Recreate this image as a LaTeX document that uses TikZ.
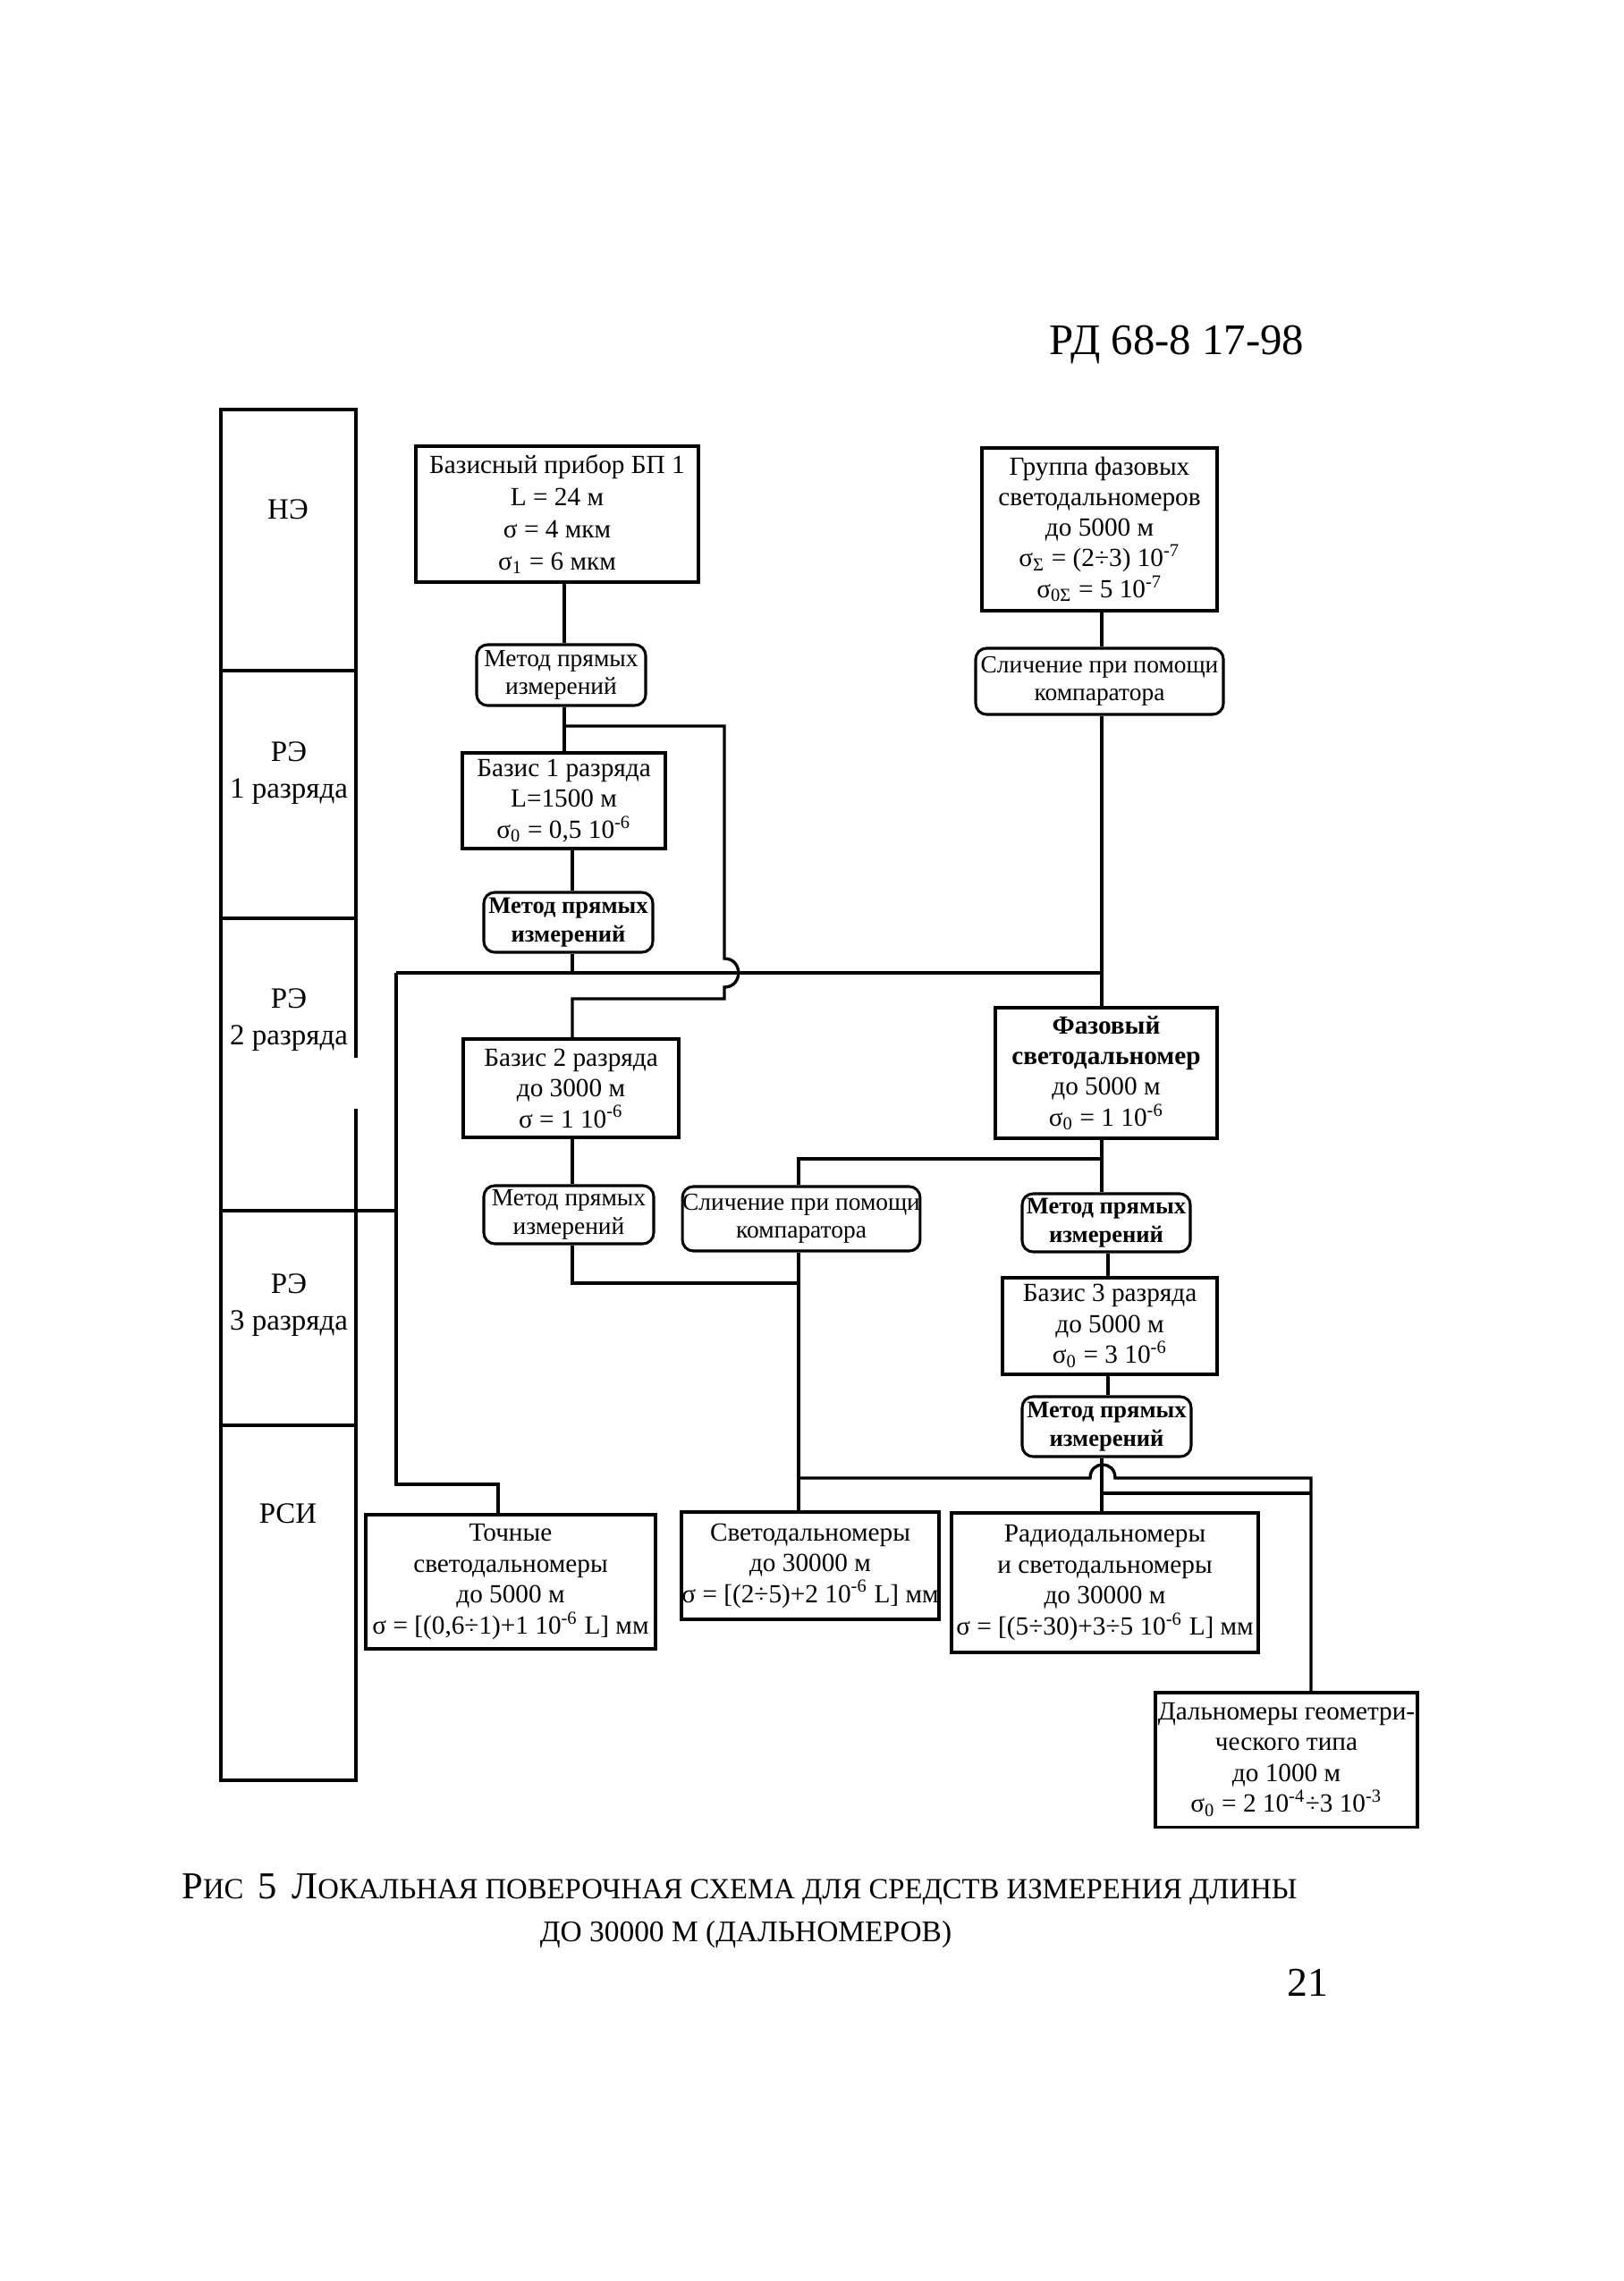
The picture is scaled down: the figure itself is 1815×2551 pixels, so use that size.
\documentclass[tikz,border=0pt]{standalone}
\usepackage{fontspec}
\setmainfont{Liberation Serif}
\newcommand\mybox[7]{\node[#1, minimum width={(#5-#3)*0.32798pt}, minimum height={(#6-#4)*0.32798pt}] (#2) at ({(#3+#5)/2},{(#4+#6)/2}) {#7};}
\newcommand\sgm{σ}
\tikzset{
  ln/.style={line width=1.1pt},
  bx/.style={draw, line width=1pt, rectangle, inner sep=0pt, align=center, font=\fontsize{9.6}{11.3}\selectfont},
  rbx/.style={bx, rounded corners=4pt, font=\fontsize{9}{10.3}\selectfont},
  rbxb/.style={rbx, font=\fontsize{8.7}{10.3}\selectfont\bfseries},
  lbl/.style={inner sep=0pt, align=center, font=\fontsize{10.8}{13.5}\selectfont},
}
\begin{document}
\begin{tikzpicture}[x=0.32798pt, y=-0.32798pt]
\fill[white] (0,0) rectangle (1815,2551);
\useasboundingbox (0,0) rectangle (1815,2551);

% header
\node[anchor=base, inner sep=0pt, font=\fontsize{16}{19}\selectfont] (hdr) at (1316,396) {РД 68-8 17-98};

% level column
\draw[line width=1.1pt] (398,1183) -- (398,458) -- (247,458) -- (247,1991) -- (398,1991) -- (398,1240);
\draw[line width=1.1pt] (247,750) -- (398,750);
\draw[line width=1.1pt] (247,1027) -- (398,1027);
\coordinate (dv) at (443,1354);
\draw[line width=1.1pt] (247,1354) -- (dv);
\draw[line width=1.1pt] (247,1594) -- (398,1594);
\node[lbl] (l1) at (322,570) {НЭ};
\node[lbl] (l2) at (323,865) {РЭ\\1 разряда};
\node[lbl] (l3) at (323,1141) {РЭ\\2 разряда};
\node[lbl] (l4) at (323,1460) {РЭ\\3 разряда};
\node[lbl] (l5) at (322,1693) {РСИ};

% boxes
\mybox{bx, font=\fontsize{9.6}{11.8}\selectfont}{bp1}{465}{499}{781}{651}{Базисный прибор БП 1\\L = 24 м\\\sgm{} = 4 мкм\\\sgm\textsubscript{1} = 6 мкм}
\mybox{rbx}{m1}{533}{721}{722}{789}{Метод прямых\\измерений}
\mybox{bx}{b1}{517}{842}{744}{949}{Базис 1 разряда\\L=1500 м\\\sgm\textsubscript{0} = 0,5 10\textsuperscript{-6}}
\mybox{rbxb}{m2}{541}{998}{730}{1065}{Метод прямых\\измерений}
\mybox{bx, font=\fontsize{9.6}{11.2}\selectfont}{gr}{1098}{501}{1361}{683}{Группа фазовых\\светодальномеров\\до 5000 м\\\sgm\textsubscript{Σ} = (2÷3) 10\textsuperscript{-7}\\\sgm\textsubscript{0Σ} = 5 10\textsuperscript{-7}}
\mybox{rbx}{s1}{1091}{725}{1368}{799}{Сличение при помощи\\компаратора}
\mybox{bx}{faz}{1113}{1127}{1361}{1273}{\textbf{Фазовый}\\\textbf{светодальномер}\\до 5000 м\\\sgm\textsubscript{0} = 1 10\textsuperscript{-6}}
\mybox{bx}{b2}{518}{1162}{759}{1272}{Базис 2 разряда\\до 3000 м\\\sgm{} = 1 10\textsuperscript{-6}}
\mybox{rbx}{m3}{541}{1326}{731}{1391}{Метод прямых\\измерений}
\mybox{rbx}{s2}{767}{1327}{1025}{1399}{Сличение при помощи\\компаратора}
\mybox{rbxb}{mr1}{1143}{1335}{1331}{1400}{Метод прямых\\измерений}
\mybox{bx}{b3}{1121}{1429}{1361}{1537}{Базис 3 разряда\\до 5000 м\\\sgm\textsubscript{0} = 3 10\textsuperscript{-6}}
\mybox{rbxb}{mr2}{1143}{1562}{1332}{1629}{Метод прямых\\измерений}
\mybox{bx}{toch}{409}{1694}{733}{1844}{Точные\\светодальномеры\\до 5000 м\\\sgm{} = [(0,6÷1)+1 10\textsuperscript{-6} L] мм}
\mybox{bx}{svet}{762}{1691}{1050}{1811}{Светодальномеры\\до 30000 м\\\sgm{} = [(2÷5)+2 10\textsuperscript{-6} L] мм}
\mybox{bx}{radio}{1064}{1692}{1407}{1848}{Радиодальномеры\\и светодальномеры\\до 30000 м\\\sgm{} = [(5÷30)+3÷5 10\textsuperscript{-6} L] мм}
\mybox{bx}{dal}{1292}{1893}{1585}{2043}{Дальномеры геометри-\\ческого типа\\до 1000 м\\\sgm\textsubscript{0} = 2 10\textsuperscript{-4}÷3 10\textsuperscript{-3}}

% reference x positions
\coordinate (xA) at (631,0);
\coordinate (xB) at (640,0);
\coordinate (xT) at (1232,0);
\coordinate (xR) at (1239,0);
\coordinate (xS) at (893,0);

% left chain
\draw[ln] (bp1.south -| xA) -- (m1.north -| xA);
\draw[ln] (m1.south -| xA) -- (b1.north -| xA);
\draw[ln] (b1.south -| xB) -- (m2.north -| xB);
\coordinate (j1) at (631,812);
\coordinate (j1r) at (810,812);
\coordinate (h1a) at (810,1072);
\coordinate (h1b) at (810,1104);
\coordinate (k1r) at (810,1117);
\coordinate (k1) at (640,1117);
\draw[ln] (j1) -- (j1r) -- (h1a) .. controls (831,1072) and (831,1104) .. (h1b) -- (k1r) -- (k1) -- (b2.north -| k1);
\draw[ln] (b2.south -| xB) -- (m3.north -| xB);

% main horizontal
\coordinate (jm) at (640,1088);
\coordinate (jL) at (443,1088);
\coordinate (jT) at (1232,1088);
\draw[ln] (m2.south -| jm) -- (jm);
\draw[ln] (jL) -- (jT);
\coordinate (jL2) at (443,1660);
\coordinate (jL3) at (557,1660);
\draw[ln] (jL) -- (jL2) -- (jL3) -- (toch.north -| jL3);

% right trunk
\draw[ln] (gr.south -| xT) -- (s1.north -| xT);
\draw[ln] (s1.south -| xT) -- (faz.north -| xT);
\draw[ln] (faz.south -| xT) -- (mr1.north -| xT);
\coordinate (jf) at (1232,1296);
\coordinate (jf2) at (893,1296);
\draw[ln] (jf) -- (jf2) -- (s2.north -| jf2);
\draw[ln] (mr1.south -| xR) -- (b3.north -| xR);
\draw[ln] (b3.south -| xR) -- (mr2.north -| xR);
\draw[ln] (mr2.south -| xT) -- (radio.north -| xT);

% lower middle
\draw[ln] (s2.south -| xS) -- (svet.north -| xS);
\coordinate (jm3) at (640,1435);
\draw[ln] (m3.south -| jm3) -- (jm3) -- (xS |- jm3);
\coordinate (jb) at (893,1653);
\coordinate (hb1) at (1219,1653);
\coordinate (hb2) at (1247,1653);
\coordinate (jd) at (1466,1653);
\draw[ln] (jb) -- (hb1) .. controls (1219,1633) and (1247,1633) .. (hb2) -- (jd) -- (dal.north -| jd);
\coordinate (jr) at (1233,1670);
\coordinate (jr2) at (1466,1670);
\draw[ln] (jr) -- (jr2);

% caption
\node[inner sep=0pt] (cap1) at (827,2113) {\resizebox{409pt}{!}{{\fontsize{13}{15}\selectfont Р}{\fontsize{10}{12}\selectfont ИС}\ \ {\fontsize{13}{15}\selectfont 5}\ \ {\fontsize{13}{15}\selectfont Л}{\fontsize{10}{12}\selectfont ОКАЛЬНАЯ ПОВЕРОЧНАЯ СХЕМА ДЛЯ СРЕДСТВ ИЗМЕРЕНИЯ ДЛИНЫ}}};
\node[inner sep=0pt] (cap2) at (834,2163) {\resizebox{151pt}{!}{\fontsize{10}{12}\selectfont ДО 30000 М (ДАЛЬНОМЕРОВ)}};
\node[inner sep=0pt, font=\fontsize{15}{18}\selectfont] (pg) at (1462,2217) {21};
\end{tikzpicture}
\end{document}
